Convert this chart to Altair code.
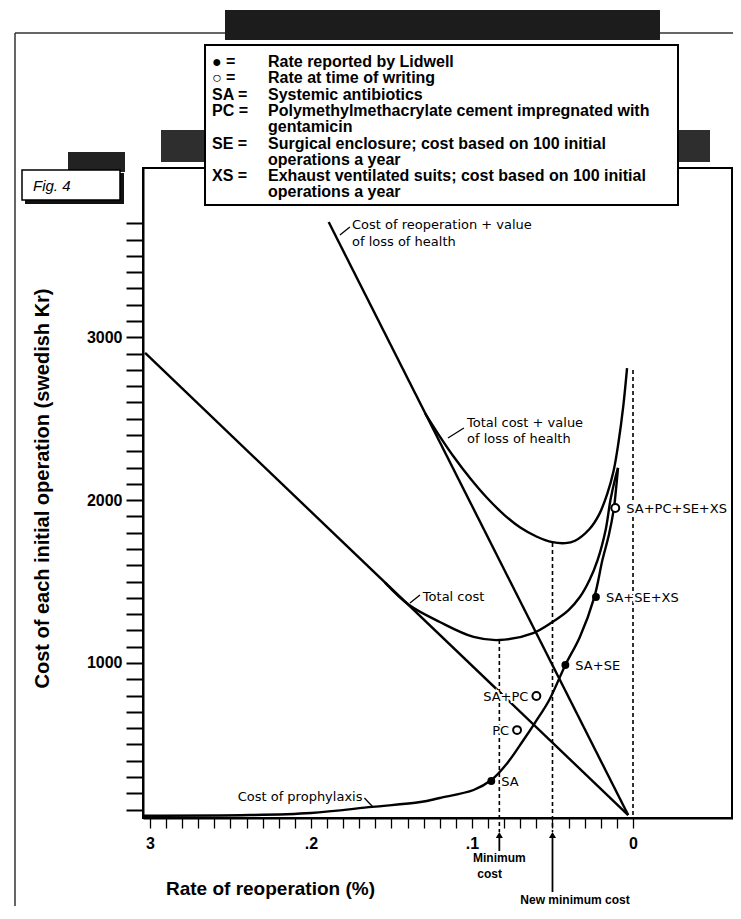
import altair as alt
import pandas as pd

FONT = "Liberation Sans, Arial, Helvetica, sans-serif"
NOTE_FONT = "DejaVu Sans, Liberation Sans, sans-serif"

# ---------------- data ----------------
# straight lines
REOP_HEALTH_RATE = [0.189, 0.003]
REOP_HEALTH_COST = [3708, 66]
REOP_RATE = [0.303, 0.003]
REOP_COST = [2904, 66]
# cost of prophylaxis
PROPH_RATE = [0.304, 0.238, 0.200, 0.162, 0.132, 0.120, 0.099, 0.088, 0.078, 0.068,
              0.061, 0.052, 0.042, 0.033, 0.024, 0.019, 0.015, 0.012, 0.0106, 0.0093]
PROPH_COST = [62, 66, 79, 116, 146, 171, 220, 281, 386, 527,
              631, 773, 988, 1160, 1405, 1632, 1786, 1940, 2062, 2198]
# total cost
TOTAL_RATE = [0.154, 0.139, 0.120, 0.099, 0.083, 0.062, 0.050, 0.040, 0.033, 0.027,
              0.022, 0.017, 0.014, 0.011, 0.0093]
TOTAL_COST = [1494, 1356, 1252, 1160, 1141, 1184, 1252, 1325, 1405, 1510,
              1632, 1817, 2001, 2136, 2198]
# total cost + value of loss of health
TOTALH_RATE = [0.129, 0.120, 0.112, 0.101, 0.091, 0.080, 0.070, 0.060, 0.050, 0.042,
               0.036, 0.027, 0.021, 0.016, 0.012, 0.009, 0.006, 0.0037]
TOTALH_COST = [2532, 2392, 2276, 2133, 2018, 1910, 1832, 1777, 1742, 1736,
               1751, 1823, 1913, 2038, 2182, 2356, 2581, 2811]

# rates reported by Lidwell (filled) and at time of writing (open)
LIDWELL_LABEL = ["SA", "SA+SE", "SA+SE+XS"]
LIDWELL_RATE = [0.088, 0.042, 0.023]
LIDWELL_COST = [275, 988, 1405]
NOW_LABEL = ["PC", "SA+PC", "SA+PC+SE+XS"]
NOW_RATE = [0.072, 0.060, 0.011]
NOW_COST = [588, 797, 1952]
NOW_LABEL_SIDE = ["left", "left", "right"]

# minimum cost markers
MIN_RATE, MIN_COST = 0.083, 1141
NEWMIN_RATE, NEWMIN_COST = 0.050, 1737
ZERO_RATE, ZERO_TOP = 0.0, 2799

# curve annotations
ANNOT_TEXT = ["Cost of reoperation + value", "of loss of health",
              "Total cost + value", "of loss of health", "Total cost"]
ANNOT_RATE = [0.1745, 0.1745, 0.1031, 0.1031, 0.1305]
ANNOT_COST = [3692, 3585, 2476, 2376, 1405]
PROPH_TEXT, PROPH_TEXT_RATE, PROPH_TEXT_COST = "Cost of prophylaxis", 0.1680, 177
LEADER_RATE = [0.1820, 0.1149, 0.1385, 0.1668]
LEADER_RATE2 = [0.1758, 0.1050, 0.1323, 0.1615]
LEADER_COST = [3628, 2382, 1368, 171]
LEADER_COST2 = [3677, 2443, 1417, 116]

# axes
X_TICKS = [0.0, 0.01, 0.02, 0.03, 0.04, 0.05, 0.06, 0.07, 0.08, 0.09, 0.1,
           0.11, 0.12, 0.13, 0.14, 0.15, 0.16, 0.17, 0.18, 0.19, 0.2,
           0.21, 0.22, 0.23, 0.24, 0.25, 0.26, 0.27, 0.28, 0.29, 0.3]
X_TICK_LABELS = {0.3: "3", 0.2: ".2", 0.1: ".1", 0.0: "0"}
Y_TICKS = [100, 200, 300, 400, 500, 600, 700, 800, 900, 1000, 1100, 1200, 1300,
           1400, 1500, 1600, 1700, 1800, 1900, 2000, 2100, 2200, 2300, 2400, 2500,
           2600, 2700, 2800, 2900, 3000, 3100, 3200, 3300, 3400, 3500, 3600, 3700]

LEGEND_KEYS = ["\u25cf =", "\u25cb =", "SA =", "PC =", "", "SE =", "", "XS =", ""]
LEGEND_TEXT = ["Rate reported by Lidwell", "Rate at time of writing", "Systemic antibiotics",
               "Polymethylmethacrylate cement impregnated with", "gentamicin",
               "Surgical enclosure; cost based on 100 initial", "operations a year",
               "Exhaust ventilated suits; cost based on 100 initial", "operations a year"]

# ---------------- layout ----------------
W, H = 590, 650
ONE = [{}]

x_label_expr = " : ".join(
    f"abs(datum.value - {v}) < 0.001 ? '{t}'" for v, t in X_TICK_LABELS.items()
) + " : ''"

x_axis = alt.Axis(values=X_TICKS, labelExpr=x_label_expr, tickSize=10, tickWidth=1.3,
                  tickColor="black", domainColor="black", domainWidth=2, grid=False,
                  labelFont=FONT, labelFontSize=16, labelFontWeight="bold", labelColor="black",
                  labelPadding=7, labelOverlap=False, labelFlush=False,
                  titleFont=FONT, titleFontSize=19, titleFontWeight="bold", titleColor="black",
                  titleX=127, titleY=70, titleAlign="center", titleBaseline="middle")
y_axis = alt.Axis(values=Y_TICKS, labelExpr="datum.value % 1000 === 0 ? format(datum.value, 'd') : ''",
                  tickSize=17, tickWidth=2, tickColor="black", domainColor="black", domainWidth=2,
                  grid=False, labelFont=FONT, labelFontSize=16, labelFontWeight="bold",
                  labelColor="black", labelPadding=4, labelOverlap=False, labelFlush=False,
                  titleFont=FONT, titleFontSize=20, titleFontWeight="bold", titleColor="black",
                  titleX=-101, titleY=320, titleAngle=270, titleAlign="center",
                  titleBaseline="middle")

x_scale = alt.Scale(domain=[-0.0621, 0.3043], reverse=True, nice=False, zero=False)
y_scale = alt.Scale(domain=[48, 4040], nice=False, zero=False)
X = alt.X("rate:Q", scale=x_scale, axis=x_axis, title="Rate of reoperation (%)")
Y = alt.Y("cost:Q", scale=y_scale, axis=y_axis, title="Cost of each initial operation (swedish Kr)")


def deco_rect(x, x2, y, y2, fill, stroke=None, sw=0):
    kw = dict(fill=fill)
    if stroke:
        kw.update(stroke=stroke, strokeWidth=sw)
    return alt.Chart(alt.Data(values=ONE)).mark_rect(**kw).encode(
        x=alt.value(x), x2=alt.value(x2), y=alt.value(y), y2=alt.value(y2))


def deco_rule(x, x2, y, y2, color="#333", sw=1.5):
    return alt.Chart(alt.Data(values=ONE)).mark_rule(color=color, strokeWidth=sw).encode(
        x=alt.value(x), x2=alt.value(x2), y=alt.value(y), y2=alt.value(y2))


# ---------------- decorations of the scanned page ----------------
page_h = deco_rule(-128, W, -135, -135)
page_v = deco_rule(-128, -128, -135, 738)
top_bar = deco_rect(82, 517, -158, -128, "#1c1c1c")
band = deco_rect(18, 567, -38, -6, "#2e2e2e")
fig_bar = deco_rect(-75, -18, -16, 4, "#222222")
fig_shadow = deco_rect(-118, -19, 5, 36, "#111111")
fig_box = deco_rect(-121, -23, 2, 32, "white", "black", 1.5)
fig_text = alt.Chart(alt.Data(values=ONE)).mark_text(
    text="Fig. 4", font=FONT, fontSize=15, fontStyle="italic", align="left",
    baseline="middle", color="black").encode(x=alt.value(-110), y=alt.value(18))

frame = deco_rect(0, W - 1, 0, H, "transparent", "black", 2)

# ---------------- curves ----------------
rows = []
for name, rr, cc in [("reop_health", REOP_HEALTH_RATE, REOP_HEALTH_COST),
                     ("reop", REOP_RATE, REOP_COST),
                     ("proph", PROPH_RATE, PROPH_COST),
                     ("total", TOTAL_RATE, TOTAL_COST),
                     ("total_health", TOTALH_RATE, TOTALH_COST)]:
    for r, c in zip(rr, cc):
        rows.append({"series": name, "rate": r, "cost": c})
curve_df = pd.DataFrame(rows)

curves = alt.Chart(curve_df).mark_line(
    color="black", strokeWidth=2.4, interpolate="catmull-rom", clip=True
).encode(x=X, y=Y, detail="series:N")

# ---------------- dashed minimum lines and arrows ----------------
dash_df = pd.DataFrame({"rate": [MIN_RATE, NEWMIN_RATE], "cost": [MIN_COST, NEWMIN_COST]})
dashes = alt.Chart(dash_df).mark_rule(color="black", strokeWidth=1.6, strokeDash=[4, 3]).encode(
    x=X, y=Y, y2=alt.value(664))
zero_df = pd.DataFrame({"rate": [ZERO_RATE], "cost": [ZERO_TOP]})
zero_dash = alt.Chart(zero_df).mark_rule(color="black", strokeWidth=1.6, strokeDash=[4, 3]).encode(
    x=X, y=Y, y2=alt.value(H))
arrows = alt.Chart(dash_df).mark_point(shape="triangle-up", filled=True, size=50,
                                       color="black", opacity=1).encode(x=X, y=alt.value(667))
stem_min = alt.Chart(pd.DataFrame({"rate": [MIN_RATE]})).mark_rule(
    color="black", strokeWidth=1.8).encode(x=X, y=alt.value(668), y2=alt.value(683))
stem_new = alt.Chart(pd.DataFrame({"rate": [NEWMIN_RATE]})).mark_rule(
    color="black", strokeWidth=1.8).encode(x=X, y=alt.value(668), y2=alt.value(724))
bottom_df = pd.DataFrame({"rate": [MIN_RATE, MIN_RATE + 0.006, NEWMIN_RATE - 0.014],
                          "py": [690, 706, 732],
                          "txt": ["Minimum", "cost", "New minimum cost"]})
bottom_txt = alt.Chart(bottom_df).mark_text(
    font=FONT, fontSize=12, fontWeight="bold", color="black", align="center",
    baseline="middle").encode(x=X, y=alt.Y("py:Q", scale=None), text="txt:N")

# ---------------- points ----------------
lid_df = pd.DataFrame({"rate": LIDWELL_RATE, "cost": LIDWELL_COST, "label": LIDWELL_LABEL})
now_df = pd.DataFrame({"rate": NOW_RATE, "cost": NOW_COST, "label": NOW_LABEL,
                       "side": NOW_LABEL_SIDE})
lid_pts = alt.Chart(lid_df).mark_circle(size=62, color="black", opacity=1).encode(x=X, y=Y)
now_pts = alt.Chart(now_df).mark_point(shape="circle", filled=True, fill="white",
                                       stroke="black", strokeWidth=2, size=62,
                                       opacity=1).encode(x=X, y=Y)


def point_labels(df, align, dx, halo):
    kw = dict(font=NOTE_FONT, fontSize=13, align=align, baseline="middle", dx=dx, dy=1)
    if halo:
        kw.update(color="white", stroke="white", strokeWidth=4)
    else:
        kw.update(color="black")
    return alt.Chart(df).mark_text(**kw).encode(x=X, y=Y, text="label:N")


now_r = now_df[now_df["side"] == "right"]
now_l = now_df[now_df["side"] == "left"]
label_layers = []
for halo in (True, False):
    label_layers += [point_labels(lid_df, "left", 10, halo),
                     point_labels(now_r, "left", 11, halo),
                     point_labels(now_l, "right", -8, halo)]

# ---------------- curve annotations ----------------
annot_df = pd.DataFrame({"rate": ANNOT_RATE, "cost": ANNOT_COST, "txt": ANNOT_TEXT})
annot = alt.Chart(annot_df).mark_text(font=NOTE_FONT, fontSize=13, color="black", align="left",
                                      baseline="middle").encode(x=X, y=Y, text="txt:N")
proph_df = pd.DataFrame({"rate": [PROPH_TEXT_RATE], "cost": [PROPH_TEXT_COST], "txt": [PROPH_TEXT]})
proph_txt = alt.Chart(proph_df).mark_text(font=NOTE_FONT, fontSize=13, color="black", align="right",
                                          baseline="middle").encode(x=X, y=Y, text="txt:N")
leader_df = pd.DataFrame({"rate": LEADER_RATE, "rate2": LEADER_RATE2,
                          "cost": LEADER_COST, "cost2": LEADER_COST2})
leaders = alt.Chart(leader_df).mark_rule(color="black", strokeWidth=1.3).encode(
    x=X, x2="rate2:Q", y=Y, y2="cost2:Q")

# ---------------- legend box ----------------
LEG_TOP, LEG_STEP = -106, 16.3
leg_df = pd.DataFrame({"key": LEGEND_KEYS, "desc": LEGEND_TEXT,
                       "py": [LEG_TOP + i * LEG_STEP for i in range(len(LEGEND_TEXT))]})
leg_box = deco_rect(62, 535, -123, 37, "white", "black", 2)
leg_keys = alt.Chart(leg_df).mark_text(font=FONT, fontSize=16, fontWeight="bold", color="black",
                                       align="left", baseline="middle").encode(
    x=alt.value(69), y=alt.Y("py:Q", scale=None), text="key:N")
leg_desc = alt.Chart(leg_df).mark_text(font=FONT, fontSize=16, fontWeight="bold", color="black",
                                       align="left", baseline="middle").encode(
    x=alt.value(125), y=alt.Y("py:Q", scale=None), text="desc:N")

chart = alt.layer(
    page_h, page_v, top_bar, band, fig_bar, fig_shadow, fig_box, fig_text,
    frame, curves, dashes, zero_dash, arrows, stem_min, stem_new, bottom_txt,
    leaders, annot, proph_txt, *label_layers, lid_pts, now_pts,
    leg_box, leg_keys, leg_desc,
).properties(
    width=W, height=H, autosize="none",
    padding={"left": 135, "top": 160, "right": 0, "bottom": 88},
    background="white",
).configure_view(stroke=None)

chart.save("out.html", embed_options={"renderer": "svg", "actions": False})
